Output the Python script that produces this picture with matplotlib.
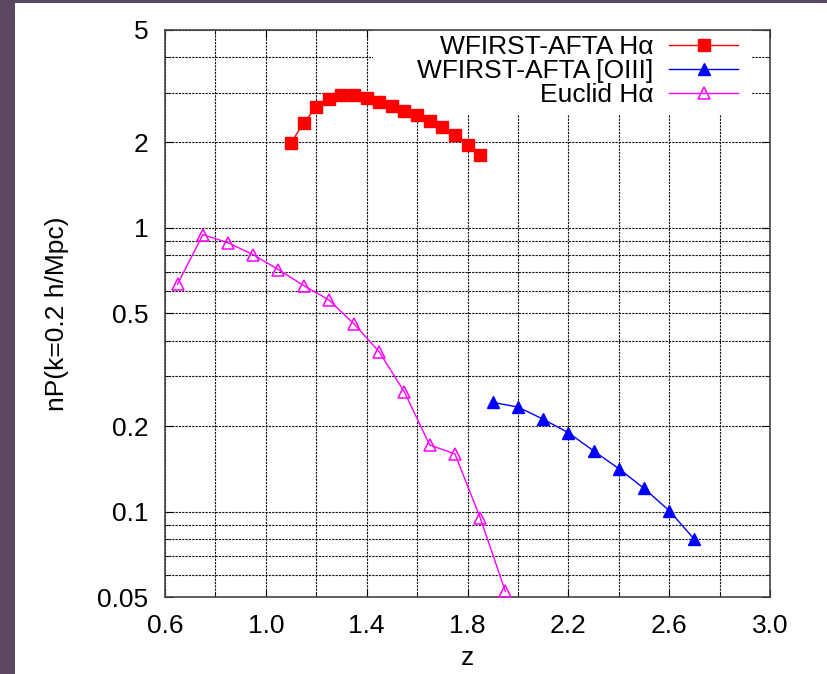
import numpy as np
import matplotlib.pyplot as plt
from matplotlib.patches import Rectangle
from matplotlib.ticker import FixedLocator, NullFormatter

plt.rcParams['font.family'] = ['Liberation Sans', 'DejaVu Sans']

# WFIRST-AFTA H-alpha
z_ha = [1.10, 1.15, 1.20, 1.25, 1.30, 1.35, 1.40, 1.45, 1.50, 1.55, 1.60, 1.65, 1.70, 1.75, 1.80, 1.85]
np_ha = [1.99, 2.35, 2.66, 2.84, 2.93, 2.93, 2.87, 2.77, 2.69, 2.59, 2.49, 2.38, 2.27, 2.12, 1.96, 1.80]

# WFIRST-AFTA [OIII]
z_oiii = [1.9, 2.0, 2.1, 2.2, 2.3, 2.4, 2.5, 2.6, 2.7]
np_oiii = [0.243, 0.234, 0.212, 0.190, 0.164, 0.142, 0.121, 0.101, 0.080]

# Euclid H-alpha
z_euc = [0.65, 0.75, 0.85, 0.95, 1.05, 1.15, 1.25, 1.35, 1.45, 1.55, 1.65, 1.75, 1.85, 1.95]
np_euc = [0.634, 0.947, 0.887, 0.805, 0.713, 0.627, 0.558, 0.459, 0.366, 0.264, 0.172, 0.160, 0.0955, 0.0525]

x_major = [0.6, 1.0, 1.4, 1.8, 2.2, 2.6, 3.0]
x_minor = [0.8, 1.2, 1.6, 2.0, 2.4, 2.8]
y_major = [0.05, 0.1, 0.2, 0.5, 1, 2, 5]
y_labels = ['0.05', '0.1', '0.2', '0.5', '1', '2', '5']
y_minor = [0.06, 0.07, 0.08, 0.09, 0.3, 0.4, 0.6, 0.7, 0.8, 0.9, 3, 4]

fig = plt.figure(figsize=(8.27, 6.74), dpi=100)
# slide background showing at the edges
fig.patches.append(Rectangle((0, 0), 15 / 827, 1, transform=fig.transFigure,
                             facecolor='#5d4862', edgecolor='none', zorder=0))
fig.patches.append(Rectangle((0, 1 - 3 / 674), 1, 3 / 674, transform=fig.transFigure,
                             facecolor='#5d4862', edgecolor='none', zorder=0))

ax = fig.add_axes([0.1995, 0.1138, 0.7316, 0.8424])
ax.set_yscale('log')
ax.set_xlim(0.6, 3.0)
ax.set_ylim(0.05, 5)

ax.plot(z_ha, np_ha, color='red', lw=1, marker='s', ms=9, mec='red',
        label='WFIRST-AFTA H\u03b1', zorder=3)
ax.plot(z_oiii, np_oiii, color='blue', lw=1, marker='^', ms=8, mec='blue',
        label='WFIRST-AFTA [OIII]', zorder=3)
ax.plot(z_euc, np_euc, color='magenta', lw=1, marker='^', ms=8, mfc='none',
        mec='magenta', mew=1.1, label='Euclid H\u03b1', zorder=3)

ax.xaxis.set_major_locator(FixedLocator(x_major))
ax.xaxis.set_minor_locator(FixedLocator(x_minor))
ax.set_xticklabels(['%.1f' % v for v in x_major])
ax.yaxis.set_major_locator(FixedLocator(y_major))
ax.yaxis.set_minor_locator(FixedLocator(y_minor))
ax.set_yticklabels(y_labels)
ax.yaxis.set_minor_formatter(NullFormatter())

ax.tick_params(which='both', direction='in', top=True, right=True, labelsize=19, pad=12)
ax.tick_params(which='major', length=6)
ax.tick_params(which='minor', length=3)

ax.set_axisbelow(True)
ax.grid(True, which='both', color='#111111', lw=0.8, ls=(0, (2, 1)))
for s in ax.spines.values():
    s.set_color('#444444')
    s.set_linewidth(1.2)

ax.set_xlabel('z', fontsize=19, labelpad=6)
ax.set_ylabel('nP(k=0.2 h/Mpc)', fontsize=19, labelpad=20)

# white key box hides the grid behind the legend
ax.add_patch(Rectangle((0.344, 0.849), 0.626, 0.151, transform=ax.transAxes,
                       facecolor='white', edgecolor='none', zorder=1))
leg = ax.legend(loc='upper right', bbox_to_anchor=(0.947, 0.99), frameon=False,
                markerfirst=False, fontsize=19, handlelength=2.6, handletextpad=0.6,
                labelspacing=0.0, borderpad=0, borderaxespad=0)
for t in leg.get_texts():
    t.set_ha('right')

fig.savefig('out.png', dpi=100)
